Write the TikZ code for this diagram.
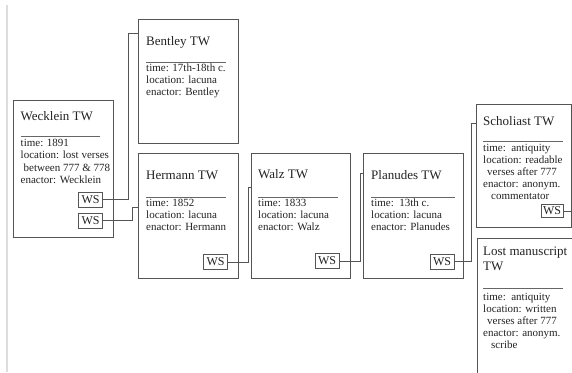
\documentclass[tikz,border=0pt]{standalone}
\usepackage{fontspec}
\setmainfont{Liberation Serif}
\definecolor{boxgray}{HTML}{555555}
\definecolor{linegray}{HTML}{555555}
\definecolor{sepgray}{HTML}{666666}
\definecolor{txt}{HTML}{222222}
\definecolor{edge}{HTML}{DDDDDD}
\begin{document}
\begin{tikzpicture}[x=1pt,y=-1pt,
  tw/.style={draw=boxgray, line width=1.1pt, anchor=north west, inner sep=0pt},
  ttl/.style={anchor=base west, inner sep=0pt, font=\fontsize{13}{15}\selectfont, text=txt},
  body/.style={anchor=base west, inner sep=0pt, font=\fontsize{11}{12}\selectfont, text=txt},
  ws/.style={draw=boxgray, line width=0.9pt, inner xsep=3pt, inner ysep=0pt, minimum height=15pt, font=\fontsize{12}{14}\selectfont, text=txt},
  sepline/.style={draw=sepgray, line width=0.8pt},
  conn/.style={draw=linegray, line width=1pt}]
\useasboundingbox (0,0) rectangle (572,372);
\draw[edge, line width=1.2pt] (7,5) -- (7,372);

% boxes
\node[tw, minimum width=100pt, minimum height=137pt] (weck) at (13,100) {};
\node[tw, minimum width=100pt, minimum height=124pt] (bent) at (138,19) {};
\node[tw, minimum width=100pt, minimum height=125pt] (herm) at (138,153) {};
\node[tw, minimum width=99pt, minimum height=125pt] (walz) at (251,153) {};
\node[tw, minimum width=100pt, minimum height=125pt] (plan) at (363,153) {};
\node[tw, minimum width=95pt, minimum height=123pt] (schol) at (476,104) {};
\node[tw, minimum width=110pt, minimum height=150pt] (lost) at (477,238) {};

% Wecklein
\node[ttl] (weckT) at (20.5,120) {Wecklein TW};
\draw[sepline] (20.5,136.7) -- (100,136.7);
\node[body] (weck1) at (20.5,146) {time: 1891};
\node[body] (weck2) at (20.5,158.5) {location: lost verses};
\node[body] (weck3) at (23.5,171) {between 777 \& 778};
\node[body] (weck4) at (20.5,183.5) {enactor: Wecklein};
\node[ws] (wsA) at (90.5,199.5) {WS};
\node[ws] (wsB) at (90.5,220.5) {WS};

% Bentley
\node[ttl] (bentT) at (146,45) {Bentley TW};
\draw[sepline] (146,62.3) -- (226,62.3);
\node[body] (bent1) at (146,71.7) {time: 17th-18th c.};
\node[body] (bent2) at (146,83.6) {location: lacuna};
\node[body] (bent3) at (146,95.5) {enactor: Bentley};

% Hermann
\node[ttl] (hermT) at (146,179) {Hermann TW};
\draw[sepline] (146,197.3) -- (226,197.3);
\node[body] (herm1) at (146,206) {time: 1852};
\node[body] (herm2) at (146,218) {location: lacuna};
\node[body] (herm3) at (146,230) {enactor: Hermann};
\node[ws] (wsH) at (215.5,262) {WS};

% Walz
\node[ttl] (walzT) at (258,178.5) {Walz TW};
\draw[sepline] (258,197.3) -- (338,197.3);
\node[body] (walz1) at (258,206) {time: 1833};
\node[body] (walz2) at (258,218) {location: lacuna};
\node[body] (walz3) at (258,230) {enactor: Walz};
\node[ws] (wsW) at (327,261) {WS};

% Planudes
\node[ttl] (planT) at (371,179) {Planudes TW};
\draw[sepline] (371,197.3) -- (455,197.3);
\node[body] (plan1) at (371,206) {time:\ \ 13th c.};
\node[body] (plan2) at (371,218) {location: lacuna};
\node[body] (plan3) at (371,230) {enactor: Planudes};
\node[ws] (wsP) at (442,261.5) {WS};

% Scholiast
\node[ttl] (scholT) at (483,125) {Scholiast TW};
\draw[sepline] (483,141.7) -- (563,141.7);
\node[body] (schol1) at (483,151.7) {time:\ \ antiquity};
\node[body] (schol2) at (483,163.7) {location: readable};
\node[body] (schol3) at (487,175.7) {verses after 777};
\node[body] (schol4) at (483,187.7) {enactor: anonym.};
\node[body] (schol5) at (491,199.7) {commentator};
\node[ws, minimum height=13pt, inner xsep=2pt] (wsS) at (552,211) {WS};

% Lost manuscript
\node[ttl] (lostT) at (483,255) {Lost manuscript};
\node[ttl] (lostT2) at (483,270) {TW};
\draw[sepline] (483,288.3) -- (563,288.3);
\node[body] (lost1) at (483,300.5) {time:\ \ antiquity};
\node[body] (lost2) at (483,312.5) {location: written};
\node[body] (lost3) at (487,324.5) {verses after 777};
\node[body] (lost4) at (483,336.5) {enactor: anonym.};
\node[body] (lost5) at (491,348.5) {scribe};

% connectors
\coordinate (kA) at (128,33);
\coordinate (kB) at (132,207);
\coordinate (kH) at (248,187);
\coordinate (kW) at (360,173);
\coordinate (kP) at (471,123);
\coordinate (kS) at (572,211);
\draw[conn] (wsA.east) -| (kA) -- (kA -| bent.west);
\draw[conn] (wsB.east) -| (kB) -- (kB -| herm.west);
\draw[conn] (wsH.east) -| (kH) -- (kH -| walz.west);
\draw[conn] (wsW.east) -| (kW) -- (kW -| plan.west);
\draw[conn] (wsP.east) -| (kP) -- (kP -| schol.west);
\draw[conn] (wsS.east) -- (kS);
\end{tikzpicture}
\end{document}
